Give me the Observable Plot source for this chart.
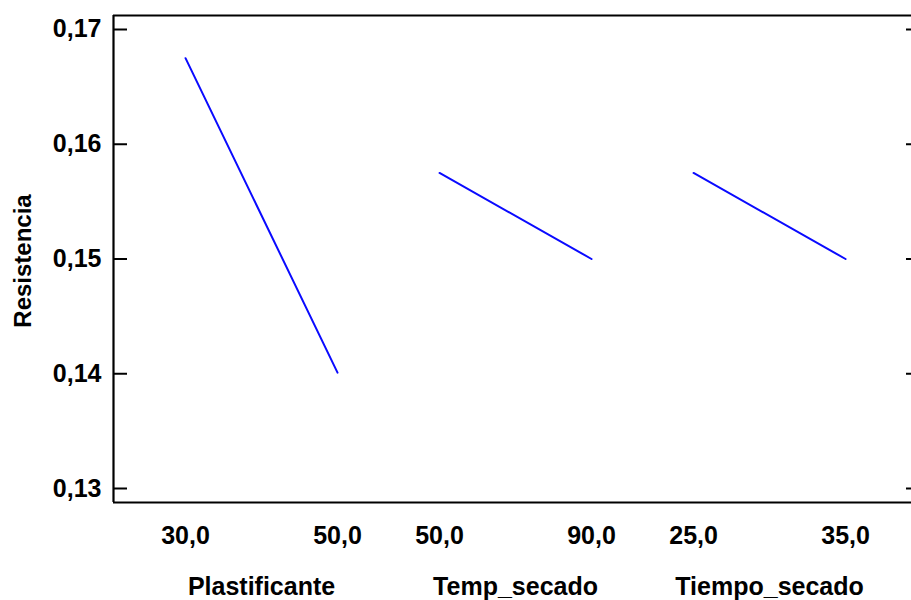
<!DOCTYPE html>
<html>
<head>
<meta charset="utf-8">
<script src="https://cdn.jsdelivr.net/npm/d3@7"></script>
<script src="https://cdn.jsdelivr.net/npm/@observablehq/plot@0.6"></script>
<style>
  html, body { margin: 0; padding: 0; background: #fff; overflow: hidden; }
  #chart svg text { font-weight: bold; }
  #chart svg g[aria-label="factor-names"] text { letter-spacing: 1.2px; }
  #chart svg g[aria-label="y-label"] text { letter-spacing: 0.6px; }
</style>
</head>
<body>
<div id="chart"></div>
<script>
const factors = ["Plastificante", "Temp_secado", "Tiempo_secado"];
const lowLevels = [30, 50, 25];
const highLevels = [50, 90, 35];
const resistLow = [0.1675, 0.1575, 0.1575];
const resistHigh = [0.1401, 0.1500, 0.1500];
const yTicks = [0.13, 0.14, 0.15, 0.16, 0.17];

const span = 0.5984;          // width of each factor's segment in panel units
const xDomain = [-0.2835, 2.858];
const yDomain = [0.12878, 0.17122];

const points = [];
factors.forEach((f, i) => {
  points.push({factor: f, x: i, y: resistLow[i], level: lowLevels[i]});
  points.push({factor: f, x: i + span, y: resistHigh[i], level: highLevels[i]});
});
const names = factors.map((f, i) => ({name: f, x: i + span / 2}));
const comma = (v, d) => v.toFixed(d).replace(".", ",");

const chart = Plot.plot({
  width: 911,
  height: 600,
  marginLeft: 113,
  marginRight: 0,
  marginTop: 15,
  marginBottom: 98,
  x: {domain: xDomain, axis: null},
  y: {domain: yDomain, axis: null},
  style: {fontFamily: "'Liberation Sans', Arial, sans-serif", color: "#000", background: "#fff"},
  marks: [
    Plot.axisY({anchor: "left", ticks: yTicks, tickSize: -14, tickPadding: 26, strokeWidth: 2,
      tickFormat: d => comma(d, 2), fontSize: 25, label: null}),
    Plot.axisY({anchor: "right", ticks: yTicks, tickSize: -6, strokeWidth: 2,
      tickFormat: () => "", label: null}),
    Plot.ruleX([xDomain[0]], {stroke: "#000", strokeWidth: 2.2}),
    Plot.ruleY([yDomain[0], yDomain[1]], {stroke: "#000", strokeWidth: 2.2}),
    Plot.line(points, {x: "x", y: "y", z: "factor", stroke: "#0a0aff", strokeWidth: 2}),
    Plot.text(points, {x: "x", y: () => yDomain[0], dy: 33, text: d => comma(d.level, 1), fontSize: 25}),
    Plot.text(names, {x: "x", y: () => yDomain[0], dy: 84, text: "name", fontSize: 25, ariaLabel: "factor-names"}),
    Plot.text(["Resistencia"], {x: () => xDomain[0], y: () => (yDomain[0] + yDomain[1]) / 2, dx: -90, dy: 2,
      textAnchor: "middle", lineAnchor: "middle", rotate: -90, fontSize: 24, ariaLabel: "y-label"})
  ]
});
document.getElementById("chart").append(chart);
</script>
</body>
</html>
